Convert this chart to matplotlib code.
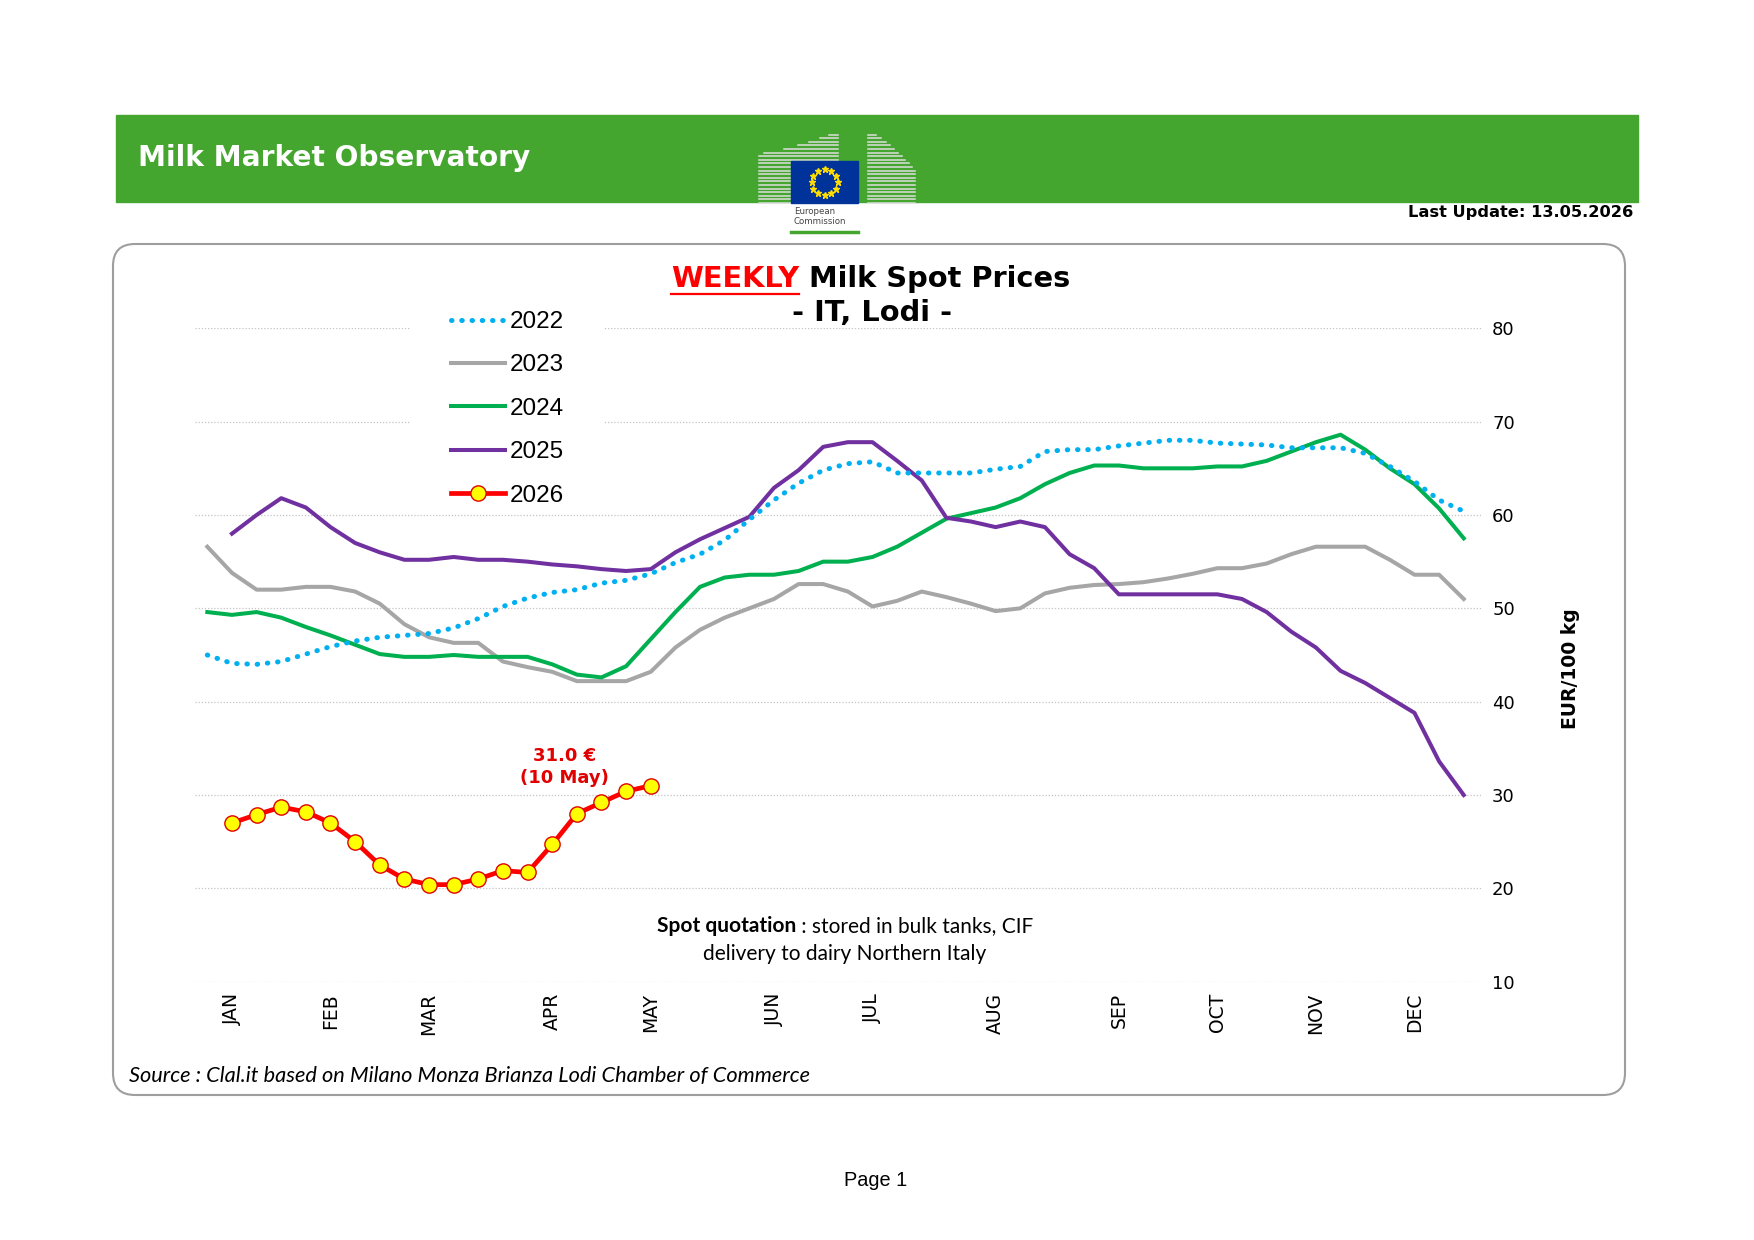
import numpy as np
import matplotlib.pyplot as plt
from matplotlib.patches import Rectangle, FancyBboxPatch
from matplotlib.lines import Line2D

# Weekly milk spot prices, IT Lodi (EUR/100 kg), week numbers 1..52
weeks = list(range(1, 53))
price_2022 = [45.0, 44.1, 44.0, 44.3, 45.1, 45.9, 46.5, 46.9, 47.1, 47.3,
              47.9, 48.9, 50.2, 51.1, 51.7, 52.0, 52.7, 53.0, 53.7, 54.9,
              55.8, 57.3, 59.5, 61.6, 63.4, 64.8, 65.5, 65.7, 64.5, 64.5,
              64.5, 64.5, 64.9, 65.2, 66.8, 67.0, 67.0, 67.4, 67.7, 68.0,
              68.0, 67.7, 67.6, 67.5, 67.2, 67.2, 67.2, 66.6, 65.2, 63.6,
              61.6, 60.4]
price_2023 = [56.6, 53.8, 52.0, 52.0, 52.3, 52.3, 51.8, 50.5, 48.3, 46.9,
              46.3, 46.3, 44.3, 43.7, 43.2, 42.2, 42.2, 42.2, 43.2, 45.8,
              47.7, 49.0, 50.0, 51.0, 52.6, 52.6, 51.8, 50.2, 50.8, 51.8,
              51.2, 50.5, 49.7, 50.0, 51.6, 52.2, 52.5, 52.6, 52.8, 53.2,
              53.7, 54.3, 54.3, 54.8, 55.8, 56.6, 56.6, 56.6, 55.2, 53.6,
              53.6, 51.0]
price_2024 = [49.6, 49.3, 49.6, 49.0, 48.0, 47.1, 46.1, 45.1, 44.8, 44.8,
              45.0, 44.8, 44.8, 44.8, 44.0, 42.9, 42.6, 43.8, 46.7, 49.6,
              52.3, 53.3, 53.6, 53.6, 54.0, 55.0, 55.0, 55.5, 56.6, 58.1,
              59.6, 60.2, 60.8, 61.8, 63.3, 64.5, 65.3, 65.3, 65.0, 65.0,
              65.0, 65.2, 65.2, 65.8, 66.8, 67.8, 68.6, 67.0, 65.0, 63.3,
              60.7, 57.5]
weeks_2025 = weeks[1:]
price_2025 = [58.0, 60.0, 61.8, 60.8, 58.7, 57.0, 56.0, 55.2, 55.2, 55.5,
              55.2, 55.2, 55.0, 54.7, 54.5, 54.2, 54.0, 54.2, 56.0, 57.4,
              58.6, 59.8, 62.9, 64.8, 67.3, 67.8, 67.8, 65.8, 63.7, 59.7,
              59.3, 58.7, 59.3, 58.7, 55.8, 54.3, 51.5, 51.5, 51.5, 51.5,
              51.5, 51.0, 49.6, 47.5, 45.8, 43.3, 42.0, 40.4, 38.8, 33.6,
              30.0]
weeks_2026 = weeks[1:19]
price_2026 = [27.0, 27.9, 28.7, 28.2, 27.0, 25.0, 22.5, 21.0, 20.4, 20.4,
              21.0, 21.9, 21.7, 24.7, 28.0, 29.2, 30.4, 31.0]

month_weeks = [2, 6, 10, 15, 19, 24, 28, 33, 38, 42, 46, 50]
month_labels = ['JAN', 'FEB', 'MAR', 'APR', 'MAY', 'JUN', 'JUL', 'AUG',
                'SEP', 'OCT', 'NOV', 'DEC']
y_ticks = [10, 20, 30, 40, 50, 60, 70, 80]

W, H = 1754, 1240
eu_green = '#44a62e'

fig = plt.figure(figsize=(W / 100, H / 100), dpi=100)
renderer = fig.canvas.get_renderer()


def fx(x):
    return x / W


def fy(y):
    return 1 - y / H


def fit(t, target):
    # scale the font so the text is target pixels wide
    w = t.get_window_extent(renderer).width
    t.set_fontsize(t.get_fontsize() * target / w)
    return t


def runs_centered(xc, y, runs, size, gap=0.0, **kw):
    objs = [fig.text(0, fy(y), s, fontsize=size, va='center', **kw, **rkw)
            for s, rkw in runs]
    widths = [o.get_window_extent(renderer).width for o in objs]
    x = xc - (sum(widths) + gap * (len(objs) - 1)) / 2
    for o, w in zip(objs, widths):
        o.set_x(fx(x))
        x += w + gap
    return objs


# header banner
fig.add_artist(Rectangle((fx(116), fy(202)), fx(1638) - fx(116), 87 / H,
                         transform=fig.transFigure, color=eu_green, zorder=1))
t = fig.text(fx(138), fy(158), 'Milk Market Observatory', color='white',
             fontsize=19, weight='bold', va='center', family='DejaVu Sans', zorder=3)
fit(t, 392)
t = fig.text(fx(1633), fy(212), 'Last Update: 13.05.2026', color='black',
             fontsize=11, weight='bold', va='center', ha='right', family='DejaVu Sans')
fit(t, 226)

# simplified EU Commission logo: two striped buildings behind the flag
for yy in np.arange(131, 204, 3.6):
    if yy >= 153:
        xs = 759
    else:
        xs = 759 + 79 * ((153 - yy) / 22) ** (1 / 1.5)
    fig.add_artist(Line2D([fx(xs), fx(838)], [fy(yy), fy(yy)], transform=fig.transFigure,
                          color='#dedede', lw=1.1, zorder=2))
    if yy >= 170:
        xe = 915
    else:
        xe = 868 + 47 * ((yy - 131) / 39) ** (1 / 1.3)
    fig.add_artist(Line2D([fx(868), fx(xe)], [fy(yy), fy(yy)], transform=fig.transFigure,
                          color='#dedede', lw=1.1, zorder=2))
fig.add_artist(Rectangle((fx(791), fy(203)), fx(858) - fx(791), 42 / H,
                         transform=fig.transFigure, color='#003399', zorder=3))
ang = np.linspace(0, 2 * np.pi, 13)[:-1]
fig.add_artist(Line2D(fx(824.5 + 13 * np.cos(ang)), fy(182 + 13 * np.sin(ang)),
                      transform=fig.transFigure, ls='none', marker='*', ms=4.5,
                      mfc='#ffdd00', mec='#ffdd00', zorder=4))
fig.text(fx(794), fy(216.5), 'European\nCommission', fontsize=6.2, color='#444444',
         va='center', ha='left', linespacing=1.15, family='DejaVu Sans')
fig.add_artist(Line2D([fx(791), fx(858)], [fy(232), fy(232)], transform=fig.transFigure,
                      color=eu_green, lw=2.5))

# rounded frame around the chart
fig.add_artist(FancyBboxPatch((1.13, (H - 1095) / 100), 15.12, 8.51,
                              boxstyle='round,pad=0,rounding_size=0.22',
                              transform=fig.dpi_scale_trans, fc='white',
                              ec='#9e9e9e', lw=1.5, zorder=0))

# chart title
probe = fig.text(0, 0, 'WEEKLY Milk Spot Prices', fontsize=20, weight='bold',
                 family='DejaVu Sans')
fit(probe, 400)
title_fs = probe.get_fontsize()
probe.remove()
gap = title_fs * 0.35 * 100 / 72
t1, t2 = runs_centered(871, 279, [('WEEKLY', {'color': '#ff0000'}),
                                  ('Milk Spot Prices', {'color': 'black'})],
                       title_fs, gap=gap, weight='bold', family='DejaVu Sans', zorder=5)
bb = t1.get_window_extent(renderer)
fig.add_artist(Line2D([bb.x0 / W, bb.x1 / W], [fy(294), fy(294)],
                      transform=fig.transFigure, color='#ff0000', lw=1.6, zorder=5))
fig.text(fx(872), fy(313), '- IT, Lodi -', fontsize=title_fs, weight='bold',
         ha='center', va='center', family='DejaVu Sans', zorder=5)

# plot area
ax = fig.add_axes([fx(195), fy(981.7), fx(1481) - fx(195), (981.7 - 328.3) / H])
ax.set_zorder(2)
ax.patch.set_alpha(0)

l23, = ax.plot(weeks, price_2023, color='#a6a6a6', lw=2.9, solid_joinstyle='round', zorder=2)
l24, = ax.plot(weeks, price_2024, color='#00b050', lw=2.9, solid_joinstyle='round', zorder=2.1)
l25, = ax.plot(weeks_2025, price_2025, color='#7030a0', lw=2.9, solid_joinstyle='round', zorder=2.2)
l22, = ax.plot(weeks, price_2022, color='#00b0f0', lw=3.6, ls=(0, (0.1, 1.95)),
               dash_capstyle='round', zorder=2.3)
l26, = ax.plot(weeks_2026, price_2026, color='#ff0000', lw=3.4, marker='o', ms=11,
               mfc='#ffff00', mec='#e00000', mew=1.0, zorder=3)

ax.set_xlim(0.5, 52.7)
ax.set_ylim(10, 80)
ax.set_yticks(y_ticks)
ax.yaxis.tick_right()
ax.tick_params(axis='y', length=0, pad=8, labelsize=13)
ax.set_xticks(month_weeks)
ax.set_xticklabels(month_labels, rotation=90, fontsize=13.5)
ax.tick_params(axis='x', length=0, pad=8)
ax.grid(axis='y', color='#c4c4c4', lw=0.9, ls=(0, (1, 1.5)))
ax.grid(axis='x', visible=False)
ax.set_axisbelow(True)
for s in ax.spines.values():
    s.set_visible(False)

# white patch behind the legend (cuts the gridlines like in the original)
ax.add_artist(Rectangle((fx(410), fy(505)), fx(603) - fx(410), 205 / H,
                        transform=fig.transFigure, fc='white', ec='none', zorder=1))
leg = ax.legend([l22, l23, l24, l25, l26], ['2022', '2023', '2024', '2025', '2026'],
                loc='upper left', bbox_to_anchor=(fx(451), fy(311)),
                bbox_transform=fig.transFigure, frameon=False, borderpad=0,
                borderaxespad=0, handlelength=2.22, handletextpad=0.2,
                labelspacing=0.88, prop={'family': 'Liberation Sans', 'size': 17.5})
leg.set_zorder(6)

ax.text(15.5, 33.0, '31.0 €\n(10 May)', color='#e00000', weight='bold', fontsize=13,
        ha='center', va='center', linespacing=1.25, family='DejaVu Sans')

fig.text(fx(1570), fy(669), 'EUR/100 kg', rotation=90, weight='bold', fontsize=13.5,
         ha='center', va='center', family='DejaVu Sans')

# notes
probe = fig.text(0, 0, 'Spot quotation : stored in bulk tanks, CIF', fontsize=14,
                 family='Lato')
fit(probe, 375)
note_fs = probe.get_fontsize()
probe.remove()
runs_centered(845, 926, [('Spot quotation', {'weight': 'bold'}),
                         (' : stored in bulk tanks, CIF', {})], note_fs,
              family='Lato', zorder=5)
fig.text(fx(845), fy(954), 'delivery to dairy Northern Italy', fontsize=note_fs,
         family='Lato', ha='center', va='center', zorder=5)

t = fig.text(fx(129), fy(1076), 'Source : Clal.it based on Milano Monza Brianza Lodi Chamber of Commerce',
             fontsize=14, style='italic', family='Lato', va='center', zorder=5)
fit(t, 684)
t = fig.text(fx(876), fy(1181), 'Page 1', fontsize=13, family='Liberation Sans',
             ha='center', va='center')
fit(t, 63)

fig.savefig('out.png', dpi=100, facecolor='white')
